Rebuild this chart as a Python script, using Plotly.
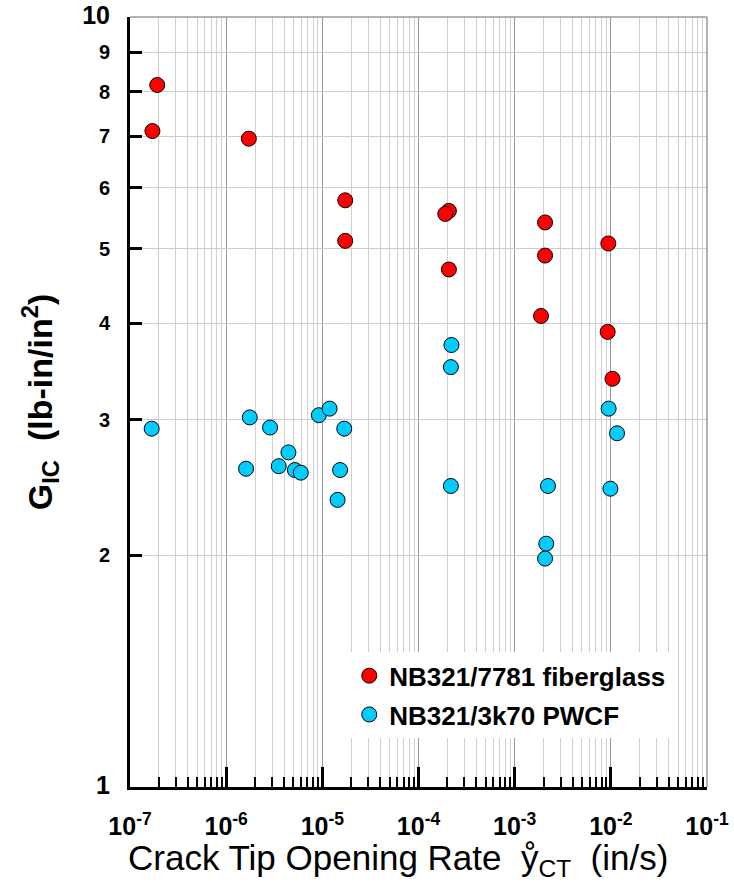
import plotly.graph_objects as go

# Red series: NB321/7781 fiberglass
fg_rate = [1.92e-7, 1.71e-7, 1.72e-6, 1.73e-5, 1.73e-5, 2.07e-4, 1.90e-4, 2.07e-4,
           2.07e-3, 2.07e-3, 1.88e-3, 9.42e-3, 9.27e-3, 1.04e-2]
fg_gic = [8.16, 7.11, 6.95, 5.78, 5.12, 5.60, 5.55, 4.70,
          5.41, 4.90, 4.09, 5.08, 3.90, 3.39]

# Blue series: NB321/3k70 PWCF
cf_rate = [1.68e-7, 1.76e-6, 1.61e-6, 2.86e-6, 3.52e-6, 4.44e-6, 5.18e-6, 5.97e-6,
           9.2e-6, 1.19e-5, 1.69e-5, 1.53e-5, 1.44e-5,
           2.20e-4, 2.17e-4, 9.49e-3, 1.16e-2,
           2.17e-4, 2.22e-3, 9.9e-3, 2.13e-3, 2.07e-3]
cf_gic = [2.92, 3.02, 2.59, 2.93, 2.61, 2.72, 2.58, 2.56,
          3.04, 3.10, 2.92, 2.58, 2.36,
          3.75, 3.51, 3.10, 2.88,
          2.46, 2.46, 2.44, 2.07, 1.98]

x_tickvals = [1e-7, 1e-6, 1e-5, 1e-4, 1e-3, 1e-2, 1e-1]
x_ticktext = ["10<sup>-7</sup>", "10<sup>-6</sup>", "10<sup>-5</sup>", "10<sup>-4</sup>",
              "10<sup>-3</sup>", "10<sup>-2</sup>", "10<sup>-1</sup>"]
y_tickvals = [1, 2, 3, 4, 5, 6, 7, 8, 9, 10]
y_ticktext = ["<span style='font-size:25px'>1</span>", "2", "3", "4", "5", "6", "7", "8", "9",
              "<span style='font-size:25px'>10</span>"]

x_title = "Crack Tip Opening Rate\u00a0\u00a0ẙ<sub>CT</sub>\u00a0\u00a0(in/s)"
y_title = "G<sub>IC</sub>\u00a0\u00a0(lb-in/in<sup>2</sup>)"

FONT = "Liberation Sans, Arial, sans-serif"

fig = go.Figure()
fig.add_trace(go.Scatter(
    x=fg_rate, y=fg_gic, mode="markers", name="NB321/7781 fiberglass",
    legendgroup="a",
    marker=dict(size=15, color="#ff0000", line=dict(color="black", width=1)),
))
fig.add_trace(go.Scatter(
    x=cf_rate, y=cf_gic, mode="markers", name="NB321/3k70 PWCF",
    legendgroup="b",
    marker=dict(size=15, color="#00ccff", line=dict(color="black", width=1)),
))

fig.update_layout(
    width=734, height=883,
    margin=dict(l=130, r=27, t=17, b=96),
    paper_bgcolor="white", plot_bgcolor="white",
    font=dict(family=FONT, color="black"),
    showlegend=True,
    legend=dict(
        x=0.380, y=0.175, xanchor="left", yanchor="top",
        bgcolor="white", borderwidth=0,
        font=dict(size=26, family=FONT, weight="bold"),
        traceorder="grouped", tracegroupgap=2,
        itemsizing="trace",
    ),
)

fig.update_xaxes(
    type="log", range=[-7, -1], automargin=False,
    tickvals=x_tickvals, ticktext=x_ticktext,
    tickfont=dict(size=25, family=FONT, weight="bold"),
    ticks="inside", ticklen=20, tickwidth=2.5, tickcolor="black",
    showline=True, linecolor="black", linewidth=3,
    showgrid=True, gridcolor="#999999", gridwidth=1,
    minor=dict(dtick="D1", ticks="inside", ticklen=10, tickwidth=2, tickcolor="black",
               showgrid=True, gridcolor="#cfcfcf", gridwidth=1),
    ticklabelstandoff=15,
    zeroline=False,
)
fig.update_yaxes(
    type="log", range=[0, 1], automargin=False,
    tickvals=y_tickvals, ticktext=y_ticktext,
    tickfont=dict(size=20, family=FONT, weight="bold"),
    ticks="inside", ticklen=12, tickwidth=2.5, tickcolor="black",
    showline=True, linecolor="black", linewidth=3,
    showgrid=True, gridcolor="#cccccc", gridwidth=1,
    ticklabelstandoff=13,
    title=dict(text=y_title, font=dict(size=34, family=FONT, weight="bold"), standoff=20),
    zeroline=False,
)

# x-axis title as annotation (slightly left of axis centre, as in the original)
fig.add_annotation(
    text=x_title, xref="paper", yref="paper", x=0.464, y=-0.095,
    xanchor="center", yanchor="middle", showarrow=False,
    font=dict(size=35, family=FONT, color="black"),
)

# top and right frame lines
fig.add_shape(type="line", xref="paper", yref="paper", x0=0, x1=1, y0=1, y1=1,
              line=dict(color="#999999", width=1.5))
fig.add_shape(type="line", xref="paper", yref="paper", x0=1, x1=1, y0=0, y1=1,
              line=dict(color="#999999", width=1.5))

fig.write_html("out.html")
